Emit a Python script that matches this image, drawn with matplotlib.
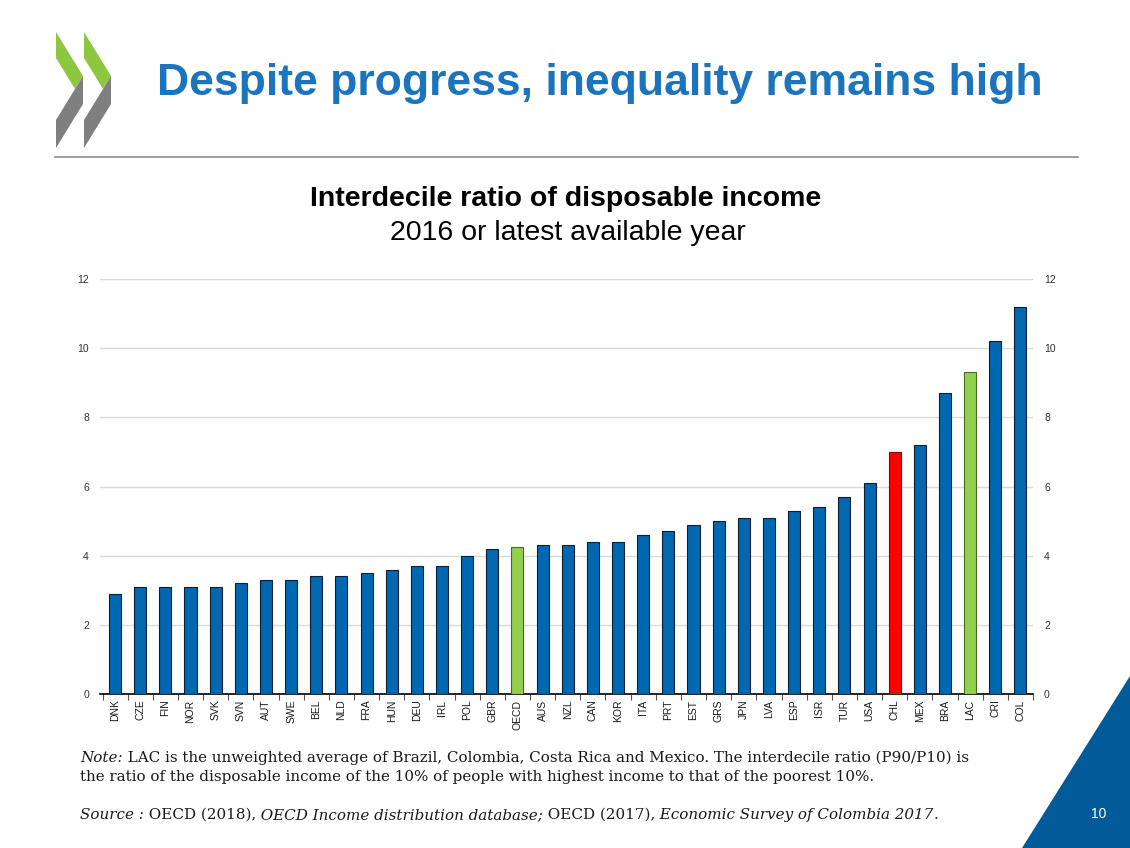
import numpy as np
import matplotlib
matplotlib.use("Agg")
import matplotlib.pyplot as plt
from matplotlib.patches import Polygon

countries = ["DNK", "CZE", "FIN", "NOR", "SVK", "SVN", "AUT", "SWE", "BEL", "NLD",
             "FRA", "HUN", "DEU", "IRL", "POL", "GBR", "OECD", "AUS", "NZL", "CAN",
             "KOR", "ITA", "PRT", "EST", "GRS", "JPN", "LVA", "ESP", "ISR", "TUR",
             "USA", "CHL", "MEX", "BRA", "LAC", "CRI", "COL"]
values = [2.9, 3.1, 3.1, 3.1, 3.1, 3.2, 3.3, 3.3, 3.4, 3.4,
          3.5, 3.6, 3.7, 3.7, 4.0, 4.2, 4.25, 4.3, 4.3, 4.4,
          4.4, 4.6, 4.7, 4.9, 5.0, 5.1, 5.1, 5.3, 5.4, 5.7,
          6.1, 7.0, 7.2, 8.7, 9.3, 10.2, 11.2]
green_items = ["OECD", "LAC"]
red_items = ["CHL"]
y_ticks = [0, 2, 4, 6, 8, 10, 12]

BLUE = "#0067b1"
GREEN = "#92d050"
RED = "#ff0000"
TITLE_BLUE = "#1c75bc"

W, H = 1130, 848
fig = plt.figure(figsize=(W / 100, H / 100), dpi=100)
plt.rcParams["font.family"] = ["Liberation Sans", "DejaVu Sans"]

# background decoration axes in pixel coords
bg = fig.add_axes([0, 0, 1, 1], zorder=0)
bg.set_xlim(0, W)
bg.set_ylim(H, 0)
bg.axis("off")

# OECD logo chevrons
for dx in (0, 28):
    green = [(56 + dx, 32), (83 + dx, 76), (75 + dx, 89), (56 + dx, 58)]
    gray = [(83 + dx, 76), (83 + dx, 104), (56 + dx, 148), (56 + dx, 120), (75 + dx, 89)]
    bg.add_patch(Polygon(green, closed=True, facecolor="#8dc63f", edgecolor="none"))
    bg.add_patch(Polygon(gray, closed=True, facecolor="#7f7f7f", edgecolor="none"))

# separator line
bg.plot([55, 1078], [157, 157], color="#8c8c8c", lw=1.2)

# blue triangle bottom right
bg.add_patch(Polygon([(1130, 676), (1130, 848), (1022, 848)], closed=True,
                     facecolor="#005b98", edgecolor="none"))
bg.text(1099, 814, "10", color="white", fontsize=10, ha="center", va="center")

# titles
fig.text(600 / W, 1 - 83 / H, "Despite progress, inequality remains high", color=TITLE_BLUE,
         fontsize=32, fontweight="bold", ha="center", va="center")
fig.text(566 / W, 1 - 199 / H, "Interdecile ratio of disposable income", color="black",
         fontsize=20.5, fontweight="bold", ha="center", va="center")
fig.text(568 / W, 1 - 233 / H, "2016 or latest available year", color="black",
         fontsize=20.5, ha="center", va="center")

# main chart
ax_left, ax_right, ax_bottom, ax_top = 100, 1033, 694, 279
ax = fig.add_axes([ax_left / W, 1 - ax_bottom / H, (ax_right - ax_left) / W,
                   (ax_bottom - ax_top) / H], zorder=2)
ax.patch.set_alpha(0)
x = np.arange(len(countries))
colors = [GREEN if c in green_items else RED if c in red_items else BLUE for c in countries]
edges = ["#4a6b1f" if c in green_items else "#8b0000" if c in red_items else "#0a1f33" for c in countries]
ax.bar(x, values, width=0.48, color=colors, edgecolor=edges, linewidth=0.8, zorder=3)
ax.set_xlim(-0.6, len(countries) - 0.5)
ax.set_ylim(0, 12)
ax.set_yticks(y_ticks)
ax.set_yticklabels([str(t) for t in y_ticks])
ax.yaxis.grid(True, color="#d9d9d9", lw=1, zorder=0)
ax.set_axisbelow(True)
for s in ["top", "left", "right"]:
    ax.spines[s].set_visible(False)
ax.spines["bottom"].set_color("#000000")
ax.spines["bottom"].set_linewidth(1.2)
ax.set_xticks(x)
ax.set_xticklabels(countries, rotation=90, fontsize=7.5, color="#1a1a1a")
ax.tick_params(axis="x", length=0, pad=4)
ax.set_xticks(np.arange(-0.5, len(countries), 1.0), minor=True)
ax.tick_params(axis="x", which="minor", length=4, width=0.8, color="#555555", direction="out")
ax.tick_params(axis="y", length=0, labelsize=7.5, labelcolor="#333333", labelright=True, pad=8)

# notes with mixed styles
renderer = fig.canvas.get_renderer()
SERIF = ["DejaVu Serif"]


def draw_segments(x_px, y_px, segments, fs):
    xp = x_px
    for txt, style in segments:
        t = fig.text(xp / W, 1 - y_px / H, txt, style=style, family=SERIF,
                     fontsize=fs, color="#1a1a1a", ha="left", va="baseline")
        bb = t.get_window_extent(renderer)
        xp += bb.width


draw_segments(80, 762, [("Note:", "italic"),
                        (" LAC is the unweighted average of Brazil, Colombia, Costa Rica and Mexico. "
                         "The interdecile ratio (P90/P10) is", "normal")], 10.9)
draw_segments(80, 781, [("the ratio of the disposable income of the 10% of people with highest income "
                         "to that of the poorest 10%.", "normal")], 10.9)
draw_segments(80, 819, [("Source :", "italic"), (" OECD (2018),", "normal"),
                        (" OECD Income distribution database;", "italic"),
                        (" OECD (2017),", "normal"),
                        (" Economic Survey of Colombia 2017", "italic"), (".", "normal")], 10.9)

fig.savefig("out.png", dpi=100)
